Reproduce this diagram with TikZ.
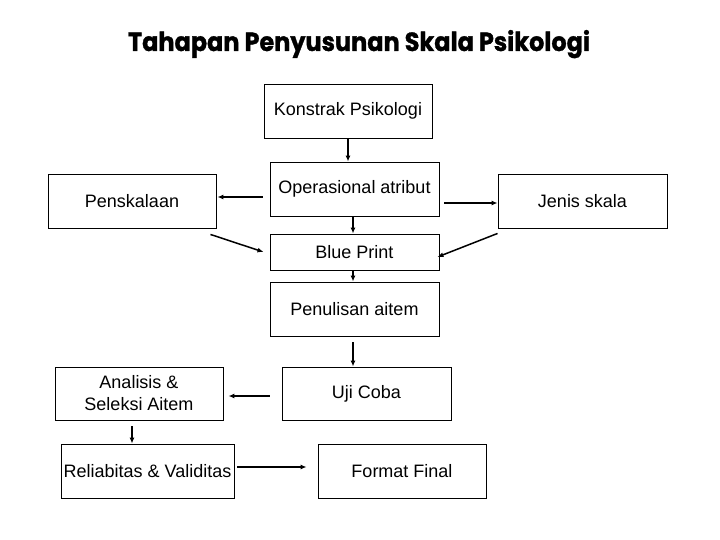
\documentclass[tikz,border=0pt]{standalone}
\usepackage{fontspec}
\setmainfont{Liberation Sans}
\newfontfamily\titlefont[BoldFeatures={FakeBold=1.2}]{Poppins}
\usetikzlibrary{arrows.meta,calc}
\tikzset{
  box/.style={draw=black, line width=0.9pt, inner sep=0pt, font=\fontsize{18}{22}\selectfont, align=center},
  conn/.style={line width=1.5pt, -{Latex[length=6pt,width=5pt]}}
}
\begin{document}
\begin{tikzpicture}[x=1pt,y=-1pt]
\useasboundingbox (0,0) rectangle (720,540);
\fill[white] (0,0) rectangle (720,540);
\node[anchor=base, inner sep=0pt] (title) at (359,51) {\resizebox{462pt}{21pt}{\titlefont\bfseries Tahapan Penyusunan Skala Psikologi}};
\node[box, minimum width=168pt, minimum height=54pt] (kon) at (348,111) {Konstrak Psikologi};
\node[box, minimum width=169pt, minimum height=54pt] (op) at (354.5,189) {Operasional atribut};
\node[box, minimum width=169pt, minimum height=36pt] (bp) at (354.5,252) {Blue Print};
\node[box, minimum width=168pt, minimum height=54pt] (pen) at (132,201) {Penskalaan};
\node[box, minimum width=169pt, minimum height=54pt] (jen) at (582.5,201) {Jenis skala};
\node[box, minimum width=169pt, minimum height=54pt] (penul) at (354.5,309) {Penulisan aitem};
\node[box, minimum width=169pt, minimum height=53pt] (uji) at (366.5,393.5) {Uji Coba};
\node[box, minimum width=168pt, minimum height=53pt] (ana) at (139,393.5) {Analisis \&\\Seleksi Aitem};
\node[box, minimum width=173pt, minimum height=54pt] (rel) at (147.5,471) {Reliabitas \& Validitas};
\node[box, minimum width=168pt, minimum height=54pt] (fin) at (402,471) {Format Final};
% connectors
\draw[conn] (kon.south) -- (kon.south |- op.north);
\draw[conn] ($(op.west)+(-7,8)$) -- ($(pen.east)+(1,-4)$);
\draw[conn] ($(pen.south east)+(-6,6)$) -- ($(bp.west)+(-6,0)$);
\draw[conn] ($(op.east)+(5,14)$) -- ($(jen.west)+(0,2)$);
\draw[conn] ($(jen.south west)+(0,5)$) -- ($(bp.east)+(-2,5)$);
\draw[conn] ($(op.south)+(-1.5,0)$) -- ($(bp.north)+(-1.5,0)$);
\draw[conn] ($(bp.south)+(-1.5,0)$) -- ($(penul.north)+(-1.5,0)$);
\coordinate (pu) at ($(penul.south)+(-1.5,6)$);
\draw[conn] (pu) -- (pu |- uji.north);
\draw[conn] ($(uji.west)+(-12,2.5)$) -- ($(ana.east)+(5,2.5)$);
\coordinate (ar) at ($(ana.south)+(-7,6)$);
\draw[conn] (ar) -- (ar |- rel.north);
\draw[conn] ($(rel.east)+(3,-4)$) -- ($(fin.west)+(-11,-4)$);
\end{tikzpicture}
\end{document}
